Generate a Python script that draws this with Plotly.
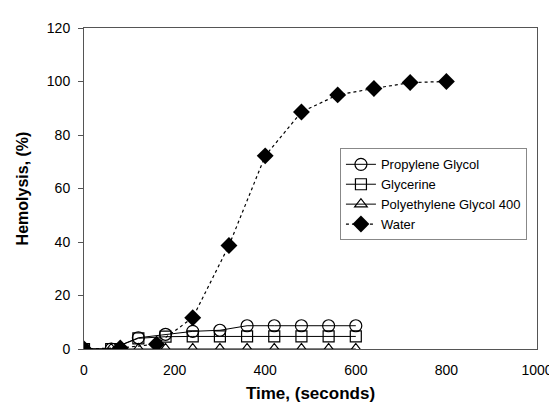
import plotly.graph_objects as go

time_glycols = [0, 60, 120, 180, 240, 300, 360, 420, 480, 540, 600]
propylene_glycol = [0, 0, 4.2, 5.5, 6.6, 7.0, 8.7, 8.7, 8.7, 8.7, 8.7]
glycerine = [0, 0, 4.0, 4.6, 4.7, 4.7, 4.7, 4.7, 4.7, 4.7, 4.7]
peg400 = [0, 0, 0, 0, 0, 0, 0, 0, 0, 0, 0]

time_water = [0, 80, 160, 240, 320, 400, 480, 560, 640, 720, 800]
water = [0, 0.4, 1.8, 11.7, 38.7, 72.2, 88.6, 95.0, 97.4, 99.6, 100.0]

x_ticks = [0, 200, 400, 600, 800, 1000]
y_ticks = [0, 20, 40, 60, 80, 100, 120]

font = "Liberation Sans, Arial, sans-serif"

fig = go.Figure()
fig.add_trace(go.Scatter(
    x=time_glycols, y=propylene_glycol, name="Propylene Glycol", mode="lines+markers",
    line=dict(color="black", width=1),
    marker=dict(symbol="circle-open", size=12, color="black", line=dict(width=1.2))))
fig.add_trace(go.Scatter(
    x=time_glycols, y=glycerine, name="Glycerine", mode="lines+markers",
    line=dict(color="black", width=1),
    marker=dict(symbol="square-open", size=11, color="black", line=dict(width=1.2))))
fig.add_trace(go.Scatter(
    x=time_glycols, y=peg400, name="Polyethylene Glycol 400", mode="lines+markers",
    line=dict(color="black", width=1),
    marker=dict(symbol="triangle-up-open", size=11, color="black", line=dict(width=1.2))))
fig.add_trace(go.Scatter(
    x=time_water, y=water, name="Water", mode="lines+markers",
    line=dict(color="black", width=1.2, dash="dot"),
    marker=dict(symbol="diamond", size=13, color="black")))

fig.update_layout(
    width=557, height=404,
    margin=dict(l=76, r=18, t=18, b=61),
    paper_bgcolor="white", plot_bgcolor="white",
    font=dict(family=font, size=14, color="black"),
    showlegend=True,
    legend=dict(
        x=0.565, y=0.625, xanchor="left", yanchor="top",
        bgcolor="white", bordercolor="#888888", borderwidth=1,
        font=dict(family=font, size=13, color="black"),
        tracegroupgap=0),
    xaxis=dict(
        range=[0, 1000], tickvals=x_ticks, ticktext=[str(v) for v in x_ticks],
        showgrid=False, zeroline=False, showline=True, linecolor="#555555", linewidth=1,
        mirror=True, ticks="", ticklabelstandoff=8,
        tickfont=dict(family=font, size=14, color="black"),
        title=dict(text="<b>Time, (seconds)</b>", font=dict(family=font, size=17, color="black"), standoff=10)),
    yaxis=dict(
        range=[0, 120], tickvals=y_ticks, ticktext=[str(v) for v in y_ticks],
        showgrid=False, zeroline=False, showline=True, linecolor="#555555", linewidth=1,
        mirror=True, ticks="outside", ticklen=5, tickcolor="#555555", ticklabelstandoff=5,
        tickfont=dict(family=font, size=14, color="black"),
        title=dict(text="<b>Hemolysis, (%)</b>", font=dict(family=font, size=16, color="black"), standoff=14)),
)

fig.write_html("out.html")
